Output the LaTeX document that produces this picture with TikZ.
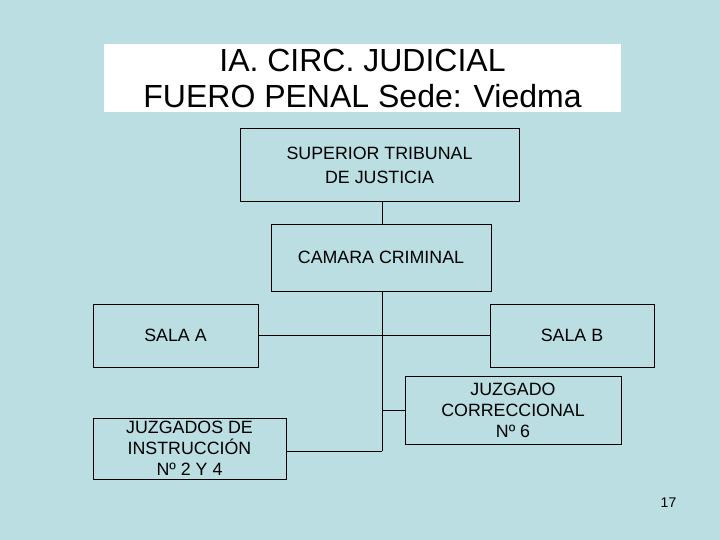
\documentclass[tikz,border=0pt]{standalone}
\usepackage{fontspec}
\setmainfont{Liberation Sans}
\definecolor{bgblue}{RGB}{186,222,226}
\begin{document}
\begin{tikzpicture}[x=1pt,y=-1pt,
  orgbox/.style={draw=black,line width=0.9pt,align=center,inner sep=0pt,
    font=\fontsize{17.8}{21}\selectfont},
  link/.style={draw=black,line width=0.9pt}]
\fill[bgblue] (0,0) rectangle (720,540);
\useasboundingbox (0,0) rectangle (720,540);
\node[fill=white,minimum width=517pt,minimum height=68pt,inner sep=0pt,align=center,
  font=\fontsize{32}{36}\selectfont] (title) at (362.5,78) {IA. CIRC. JUDICIAL\\FUERO PENAL Sede: Viedma};
\node[orgbox,minimum width=279pt,minimum height=73pt,font=\fontsize{17.8}{24}\selectfont] (stj) at (379.5,165) {SUPERIOR TRIBUNAL\\DE JUSTICIA};
\node[orgbox,minimum width=220pt,minimum height=67pt] (cc) at (381,257.5) {CAMARA CRIMINAL};
\node[orgbox,minimum width=165pt,minimum height=63pt] (sa) at (175.5,335.5) {SALA A};
\node[orgbox,minimum width=164pt,minimum height=63pt] (sb) at (572,335.5) {SALA B};
\node[orgbox,minimum width=193pt,minimum height=61pt] (ji) at (189.5,448.5) {JUZGADOS DE\\INSTRUCCIÓN\\Nº 2 Y 4};
\node[orgbox,minimum width=216pt,minimum height=68pt] (jc) at (513,410) {JUZGADO\\CORRECCIONAL\\Nº 6};
\node[font=\fontsize{14}{16}\selectfont] (pg) at (668.5,503) {17};
\coordinate (top) at (382,201);
\coordinate (j1) at (382,335.5);
\coordinate (j2) at (382,410);
\coordinate (j3) at (382,451);
\draw[link] (stj.south -| top) -- (cc.north -| top);
\draw[link] (cc.south -| top) -- (j3);
\draw[link] (sa.east) -- (sb.west);
\draw[link] (j2) -- (jc.west);
\draw[link] (j3) -- (j3 -| ji.east);
\end{tikzpicture}
\end{document}
